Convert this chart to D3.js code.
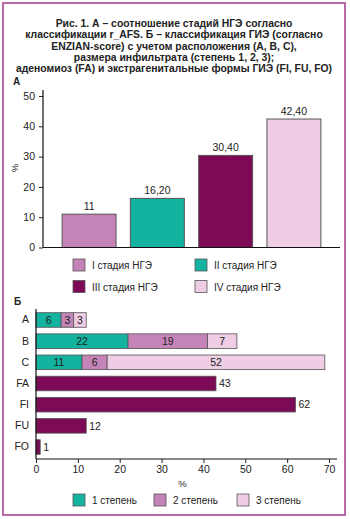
<!DOCTYPE html>
<html><head><meta charset="utf-8">
<script src="https://cdn.jsdelivr.net/npm/d3@7"></script>
<style>
html,body{margin:0;padding:0;background:#fff;}
svg{display:block;font-family:"Liberation Sans",Arial,sans-serif;}
</style></head>
<body>
<svg id="c" width="350" height="519"></svg>
<script>
// ---- data ----
const titleLines = [
  "Рис. 1. А – соотношение стадий НГЭ согласно",
  "классификации r_AFS. Б – классификация ГИЭ (согласно",
  "ENZIAN-score) с учетом расположения (А, В, С),",
  "размера инфильтрата (степень 1, 2, 3);",
  "аденомиоз (FA) и экстрагенитальные формы ГИЭ (FI, FU, FO)"
];
const stagesA = ["I стадия НГЭ", "II стадия НГЭ", "III стадия НГЭ", "IV стадия НГЭ"];
const valuesA = [11, 16.2, 30.4, 42.4];
const labelsA = ["11", "16,20", "30,40", "42,40"];
const ticksA = [0, 10, 20, 30, 40, 50];

const catsB = ["A", "B", "C", "FA", "FI", "FU", "FO"];
const degree1 = [6, 22, 11, 0, 0, 0, 0];
const degree2 = [3, 19, 6, 0, 0, 0, 0];
const degree3 = [3, 7, 52, 0, 0, 0, 0];
const otherB = [0, 0, 0, 43, 62, 12, 1];
const degreeNames = ["1 степень", "2 степень", "3 степень"];
const ticksB = [0, 10, 20, 30, 40, 50, 60, 70];

const colStage = ["#c584b8", "#13b3a0", "#7c0a57", "#eecde5"];
const colDeg = ["#13b3a0", "#c584b8", "#eecde5"];
const colOther = "#7c0a57";
const barStroke = "#555";

const svg = d3.select("#c");

// frame
svg.append("rect").attr("x", 3).attr("y", 3).attr("width", 342).attr("height", 512)
  .attr("fill", "none").attr("stroke", "#b86aa6").attr("stroke-width", 2);

// title
svg.append("g").selectAll("text").data(titleLines).join("text")
  .attr("x", 174).attr("y", (d, i) => 26.8 + i * 11.4)
  .attr("text-anchor", "middle").attr("font-size", 10.4).attr("font-weight", "bold")
  .attr("fill", "#222").text(d => d);

svg.append("text").attr("x", 13).attr("y", 84.5).attr("font-size", 10)
  .attr("font-weight", "bold").attr("fill", "#222").text("А");

// ---- chart A ----
const xA = d3.scaleBand().domain(stagesA).range([43, 340]).paddingInner(0.21).paddingOuter(0.28);
const yA = d3.scaleLinear().domain([0, 50]).range([247.5, 96]);

const gA = svg.append("g");
gA.selectAll("rect.bar").data(stagesA).join("rect")
  .attr("x", d => xA(d)).attr("width", xA.bandwidth())
  .attr("y", (d, i) => yA(valuesA[i])).attr("height", (d, i) => yA(0) - yA(valuesA[i]))
  .attr("fill", (d, i) => colStage[i]).attr("stroke", barStroke).attr("stroke-width", 1);
gA.selectAll("text.val").data(stagesA).join("text")
  .attr("x", d => xA(d) + xA.bandwidth() / 2).attr("y", (d, i) => yA(valuesA[i]) - 4)
  .attr("text-anchor", "middle").attr("font-size", 10.5).attr("fill", "#222")
  .text((d, i) => labelsA[i]);

const axA = svg.append("g").attr("transform", "translate(43,0)")
  .call(d3.axisLeft(yA).tickValues(ticksA).tickSize(4).tickPadding(4).tickFormat(d3.format("d")));
axA.select(".domain").remove();
axA.selectAll("line").attr("stroke", "#222");
axA.selectAll("text").attr("font-size", 10.5).attr("fill", "#222").attr("font-family", "Liberation Sans, Arial, sans-serif");
svg.append("line").attr("x1", 43).attr("x2", 43).attr("y1", 90).attr("y2", yA(0)).attr("stroke", "#111").attr("stroke-width", 1.2);
svg.append("line").attr("x1", 43).attr("x2", 340).attr("y1", yA(0)).attr("y2", yA(0)).attr("stroke", "#111").attr("stroke-width", 1.2);
svg.append("text").attr("transform", "translate(18,168) rotate(-90)").attr("text-anchor", "middle")
  .attr("font-size", 9.5).attr("fill", "#222").text("%");

// legend A
const legA = svg.append("g");
stagesA.forEach((s, i) => {
  const lx = i % 2 === 0 ? 73 : 195;
  const ly = i < 2 ? 259 : 280.5;
  legA.append("rect").attr("x", lx).attr("y", ly).attr("width", 12).attr("height", 12)
    .attr("fill", colStage[i]).attr("stroke", barStroke).attr("stroke-width", 0.8);
  legA.append("text").attr("x", lx + 19).attr("y", ly + 10).attr("font-size", 10)
    .attr("fill", "#222").text(s);
});

svg.append("text").attr("x", 14).attr("y", 304.5).attr("font-size", 10)
  .attr("font-weight", "bold").attr("fill", "#222").text("Б");

// ---- chart B ----
const xB = d3.scaleLinear().domain([0, 70]).range([36, 329]);
const yB = d3.scaleBand().domain(catsB).range([309.5, 457.5]).paddingInner(0.31).paddingOuter(0.15);

const gB = svg.append("g");
catsB.forEach((c, i) => {
  const segs = [degree1[i], degree2[i], degree3[i]];
  let acc = 0;
  segs.forEach((v, k) => {
    if (v > 0) {
      gB.append("rect").attr("x", xB(acc)).attr("width", xB(acc + v) - xB(acc))
        .attr("y", yB(c)).attr("height", yB.bandwidth())
        .attr("fill", colDeg[k]).attr("stroke", barStroke).attr("stroke-width", 0.8);
      gB.append("text").attr("x", (xB(acc) + xB(acc + v)) / 2).attr("y", yB(c) + yB.bandwidth() / 2 + 3.8)
        .attr("text-anchor", "middle").attr("font-size", 10.5).attr("fill", "#222").text(v);
      acc += v;
    }
  });
  if (otherB[i] > 0) {
    gB.append("rect").attr("x", xB(0)).attr("width", xB(otherB[i]) - xB(0))
      .attr("y", yB(c)).attr("height", yB.bandwidth())
      .attr("fill", colOther).attr("stroke", barStroke).attr("stroke-width", 0.8);
    gB.append("text").attr("x", xB(otherB[i]) + 3).attr("y", yB(c) + yB.bandwidth() / 2 + 3.8)
      .attr("font-size", 10.5).attr("fill", "#222").text(otherB[i]);
  }
});

const axBy = svg.append("g").attr("transform", "translate(36,0)")
  .call(d3.axisLeft(yB).tickSize(0).tickPadding(7));
axBy.select(".domain").remove();
axBy.selectAll("text").attr("font-size", 10.5).attr("fill", "#222").attr("font-family", "Liberation Sans, Arial, sans-serif");
svg.append("line").attr("x1", 36).attr("x2", 36).attr("y1", 309).attr("y2", 459).attr("stroke", "#111").attr("stroke-width", 1.2);

const axBx = svg.append("g").attr("transform", "translate(0,459)")
  .call(d3.axisBottom(xB).tickValues(ticksB).tickSize(4).tickPadding(3).tickFormat(d3.format("d")));
axBx.select(".domain").remove();
axBx.selectAll("line").attr("stroke", "#222");
axBx.selectAll("text").attr("font-size", 10.5).attr("fill", "#222").attr("font-family", "Liberation Sans, Arial, sans-serif");
svg.append("line").attr("x1", 36).attr("x2", 337).attr("y1", 459).attr("y2", 459).attr("stroke", "#111").attr("stroke-width", 1.2);
svg.append("text").attr("x", (xB(0) + xB(70)) / 2).attr("y", 487).attr("text-anchor", "middle")
  .attr("font-size", 9.5).attr("fill", "#222").text("%");

// legend B
const legBx = [73, 154, 237];
degreeNames.forEach((n, k) => {
  svg.append("rect").attr("x", legBx[k]).attr("y", 494).attr("width", 12).attr("height", 12)
    .attr("fill", colDeg[k]).attr("stroke", barStroke).attr("stroke-width", 0.8);
  svg.append("text").attr("x", legBx[k] + 19).attr("y", 504).attr("font-size", 10)
    .attr("fill", "#222").text(n);
});
</script>
</body></html>
